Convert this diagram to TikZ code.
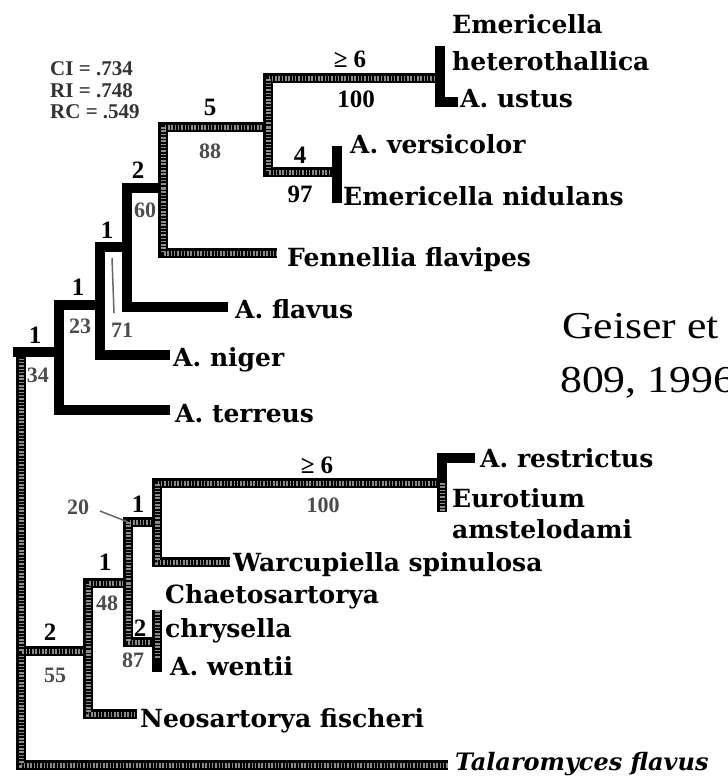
\documentclass[tikz,border=0pt]{standalone}
\usepackage{fontspec}
\setmainfont{Liberation Serif}
\newfontfamily\labfont{DejaVu Serif}
\newfontfamily\citefont{Liberation Serif}
\begin{document}
\begin{tikzpicture}[x=1pt,y=-1pt,
  blk/.style={line width=10pt,draw=black},
  hatch/.style={line width=10pt,draw=black,postaction={draw=black!45,line width=5pt,dash pattern=on 1.5pt off 1.8pt}},
  taxon/.style={font=\labfont\bfseries\fontsize{25}{29}\selectfont,inner sep=0pt,anchor=base west},
  num/.style={font=\bfseries\fontsize{25}{28}\selectfont,inner sep=0pt,anchor=base},
  snum/.style={font=\bfseries\fontsize{22}{26}\selectfont,text=black!70,inner sep=0pt,anchor=base},
  stat/.style={font=\bfseries\fontsize{21}{24}\selectfont,text=black!80,inner sep=0pt,anchor=base west},
  lead/.style={draw=black!60,line width=1.5pt}]
\useasboundingbox (0,0) rectangle (728,777);
\fill[white] (0,0) rectangle (728,777);

% internal nodes
\coordinate (root) at (21,352);
\coordinate (rootL) at (13,352);
\coordinate (W) at (59,352);
\coordinate (Z) at (100,305);
\coordinate (Y) at (127,247);
\coordinate (P) at (163,188);
\coordinate (Q) at (268,127);
\coordinate (E1) at (440,78);
\coordinate (E2) at (337,172);
\coordinate (R) at (88,651);
\coordinate (S) at (128,583);
\coordinate (U) at (157,522);
\coordinate (T) at (157,642);
\coordinate (L6) at (442,483);
% tips
\coordinate (tTal) at (448,765);
\coordinate (tTer) at (170,410);
\coordinate (tNig) at (170,355);
\coordinate (tFla) at (228,307);
\coordinate (tFen) at (277,253);
\coordinate (tHet) at (440,46);
\coordinate (tUst) at (458,102);
\coordinate (tVer) at (337,146);
\coordinate (tNid) at (337,203);
\coordinate (tNeo) at (137,714);
\coordinate (tWar) at (230,562);
\coordinate (tRes) at (475,458);
\coordinate (tEur) at (442,512);
\coordinate (tChr) at (157,610);
\coordinate (tWen) at (157,672);
\coordinate (tWenTop) at (157,660);
\coordinate (l71a) at (112,258);
\coordinate (l71b) at (114,313);
\coordinate (l20a) at (100,511);

% root
\draw[hatch] (root) |- (tTal);
\draw[hatch] (root) |- (R);
% Aspergillus clade (solid)
\draw[blk] (rootL) -- (W);
\draw[blk] (W) |- (Z);
\draw[blk] (W) |- (tTer);
\draw[blk] (Z) |- (Y);
\draw[blk] (Z) |- (tNig);
\draw[blk] (Y) |- (P);
\draw[blk] (Y) |- (tFla);
% Emericella clade
\draw[hatch] (P) |- (Q);
\draw[hatch] (P) |- (tFen);
\draw[hatch] (Q) |- (E1);
\draw[hatch] (Q) |- (E2);
\draw[blk] (E1) -- (tHet);
\draw[blk] (E1) |- (tUst);
\draw[blk] (E2) -- (tVer);
\draw[blk] (E2) -- (tNid);
% lower clade
\draw[hatch] (R) |- (S);
\draw[hatch] (R) |- (tNeo);
\draw[hatch] (S) |- (U);
\draw[hatch] (S) |- (T);
\draw[hatch] (U) |- (L6);
\draw[hatch] (U) |- (tWar);
\draw[hatch] (L6) -- (tEur);
\draw[blk] (L6) |- (tRes);
\draw[hatch] (tChr) -- (tWen);
\draw[blk] (tWenTop) -- (tWen);
% leaders
\draw[lead] (l71a) -- (l71b);
\draw[lead] (l20a) -- (S |- U);

% statistics
\node[stat] (ci) at (50,75) {CI = .734};
\node[stat] (ri) at (50,97) {RI = .748};
\node[stat] (rc) at (50,118) {RC = .549};

% branch numbers
\node[num] (b1) at (350,67) {≥ 6};
\node[num] (b2) at (356,107) {100};
\node[num] (b3) at (210,115) {5};
\node[snum] (b4) at (210,158) {88};
\node[num] (b5) at (300,163) {4};
\node[num] (b6) at (300,202) {97};
\node[num] (b7) at (138,178) {2};
\node[snum] (b8) at (145,217) {60};
\node[num] (b9) at (107,238) {1};
\node[snum] (n71) at (122,337) {71};
\node[num] (b10) at (78,295) {1};
\node[snum] (b11) at (80,333) {23};
\node[num] (b12) at (35,343) {1};
\node[snum] (b13) at (38,382) {34};
\node[num] (b14) at (317,473) {≥ 6};
\node[snum] (b15) at (323,512) {100};
\node[num] (b16) at (138,512) {1};
\node[snum] (n20) at (78,514) {20};
\node[num] (b17) at (105,570) {1};
\node[snum] (b18) at (107,610) {48};
\node[num] (b19) at (140,636) {2};
\node[snum] (b20) at (133,667) {87};
\node[num] (b21) at (50,640) {2};
\node[snum] (b22) at (55,682) {55};

% taxa
\node[taxon] (emer1) at (452,33) {Emericella};
\node[taxon] (emer2) at (452,70) {heterothallica};
\node[taxon] (ustus) at (460,107) {A. ustus};
\node[taxon] (versi) at (350,153) {A. versicolor};
\node[taxon] (nidul) at (343,205) {Emericella nidulans};
\node[taxon] (fenne) at (287,266) {Fennellia flavipes};
\node[taxon] (flavus) at (235,318) {A. flavus};
\node[taxon] (niger) at (173,366) {A. niger};
\node[taxon] (terreus) at (175,422) {A. terreus};
\node[taxon] (restr) at (480,467) {A. restrictus};
\node[taxon] (euro1) at (452,507) {Eurotium};
\node[taxon] (euro2) at (452,538) {amstelodami};
\node[taxon] (warc) at (233,571) {Warcupiella spinulosa};
\node[taxon] (chae1) at (165,603) {Chaetosartorya};
\node[taxon] (chae2) at (165,637) {chrysella};
\node[taxon] (wentii) at (170,675) {A. wentii};
\node[taxon] (neos) at (140,727) {Neosartorya fischeri};
\node[anchor=base west,inner sep=0pt,font=\labfont\bfseries\itshape\fontsize{24}{28}\selectfont] (talar) at (455,770) {Talaromyces flavus};

% citation
\node[anchor=base west,inner sep=0pt,font=\citefont\fontsize{38}{44}\selectfont] (geis1) at (562,338) {\scalebox{1.15}[1]{Geiser et}};
\node[anchor=base west,inner sep=0pt,font=\citefont\fontsize{38}{44}\selectfont] (geis2) at (560,392) {\scalebox{1.15}[1]{809, 1996}};
\end{tikzpicture}
\end{document}
